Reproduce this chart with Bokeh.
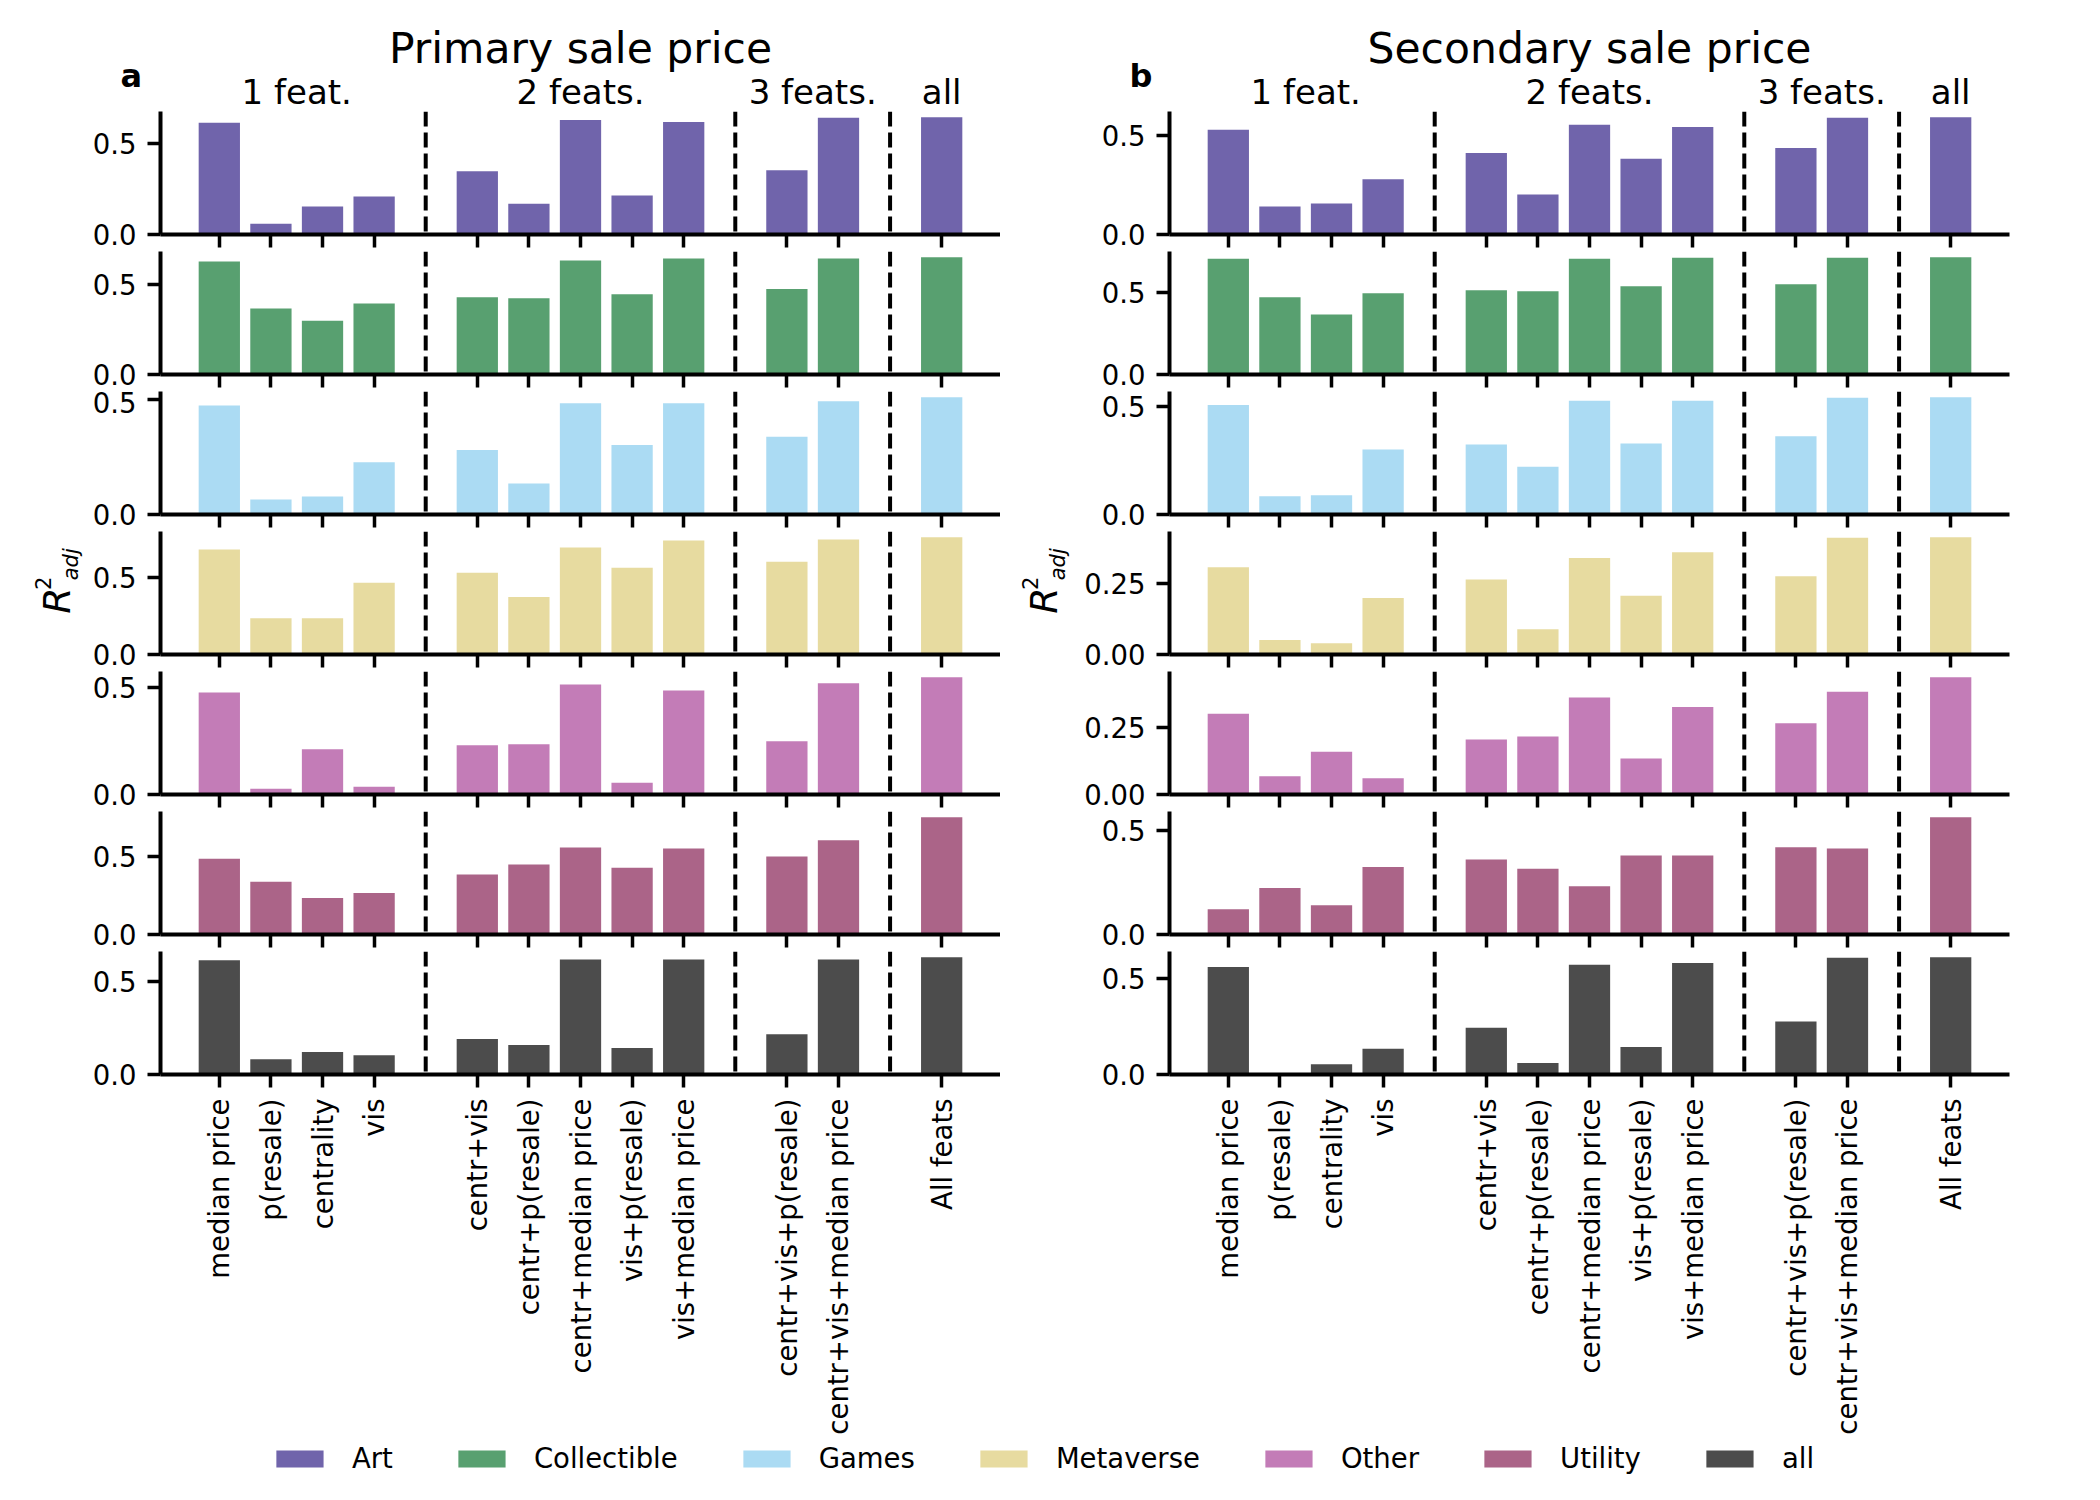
import math
from bokeh.plotting import figure
from bokeh.models import (Range1d, FixedTicker, NumeralTickFormatter, Span,
                          Legend, LegendItem)
from bokeh.core.properties import value
from bokeh.layouts import column, row
from bokeh.embed import file_html
from bokeh.resources import INLINE

# ---------------- data ----------------
features = ["median price", "p(resale)", "centrality", "vis",
            "centr+vis", "centr+p(resale)", "centr+median price", "vis+p(resale)", "vis+median price",
            "centr+vis+p(resale)", "centr+vis+median price",
            "All feats"]
group_names = ["1 feat.", "2 feats.", "3 feats.", "all"]
group_sizes = [4, 5, 2, 1]
categories = ["Art", "Collectible", "Games", "Metaverse", "Other", "Utility", "all"]
base_colors = ["#332288", "#117733", "#88CCEE", "#DDCC77", "#AA4499", "#882255", "#000000"]
panel_titles = ["Primary sale price", "Secondary sale price"]
panel_letters = ["a", "b"]

# Primary sale price (panel a)
primary_art = [0.615, 0.059, 0.154, 0.209, 0.348, 0.170, 0.631, 0.215, 0.620, 0.354, 0.643, 0.645]
primary_collectible = [0.626, 0.366, 0.298, 0.394, 0.428, 0.423, 0.632, 0.445, 0.643, 0.474, 0.643, 0.649]
primary_games = [0.475, 0.065, 0.078, 0.228, 0.281, 0.135, 0.484, 0.303, 0.484, 0.338, 0.493, 0.510]
primary_metaverse = [0.678, 0.235, 0.235, 0.463, 0.528, 0.372, 0.691, 0.561, 0.737, 0.600, 0.743, 0.757]
primary_other = [0.476, 0.027, 0.211, 0.036, 0.230, 0.235, 0.514, 0.055, 0.486, 0.249, 0.519, 0.547]
primary_utility = [0.488, 0.340, 0.235, 0.267, 0.387, 0.451, 0.561, 0.430, 0.555, 0.503, 0.608, 0.755]
primary_all = [0.617, 0.083, 0.121, 0.104, 0.192, 0.160, 0.621, 0.143, 0.621, 0.218, 0.621, 0.633]

# Secondary sale price (panel b)
secondary_art = [0.527, 0.141, 0.156, 0.278, 0.410, 0.202, 0.553, 0.381, 0.542, 0.436, 0.588, 0.590]
secondary_collectible = [0.704, 0.469, 0.364, 0.494, 0.512, 0.506, 0.704, 0.537, 0.710, 0.549, 0.710, 0.712]
secondary_games = [0.506, 0.084, 0.089, 0.300, 0.323, 0.220, 0.525, 0.328, 0.525, 0.361, 0.539, 0.541]
secondary_metaverse = [0.307, 0.051, 0.040, 0.199, 0.264, 0.089, 0.339, 0.207, 0.360, 0.275, 0.411, 0.412]
secondary_other = [0.303, 0.069, 0.161, 0.061, 0.207, 0.218, 0.364, 0.135, 0.329, 0.268, 0.386, 0.440]
secondary_utility = [0.121, 0.223, 0.140, 0.324, 0.360, 0.316, 0.232, 0.379, 0.379, 0.418, 0.413, 0.562]
secondary_all = [0.557, 0.002, 0.053, 0.134, 0.242, 0.059, 0.569, 0.143, 0.578, 0.275, 0.605, 0.607]

panels = [
    [primary_art, primary_collectible, primary_games, primary_metaverse,
     primary_other, primary_utility, primary_all],
    [secondary_art, secondary_collectible, secondary_games, secondary_metaverse,
     secondary_other, secondary_utility, secondary_all],
]

# ---------------- layout constants ----------------
FONT = "DejaVu Sans"
BAR_W = 0.8
FRAME_W, FRAME_H = 840, 123
GAP_TOP, GAP_BOTTOM = 0, 17     # split of the 17px gap between rows
HEADER_H = 111
BOTTOM_LABEL_H = 368
BORDER_L = [160, 169]      # distance from block left to frame left
BORDER_R = [0, 30]
STRIP_W = [88, 81]         # width of the y-label strip next to the middle row
LABEL_ROW = 3
MID_K = 0.346              # baseline-to-box-centre distance, in em, for DejaVu Sans

positions, boundaries, group_centers = [], [], []
pos = 0
for gi, n in enumerate(group_sizes):
    positions.extend(range(pos, pos + n))
    group_centers.append(pos + (n - 1) / 2)
    pos += n
    if gi < len(group_sizes) - 1:
        boundaries.append(pos)
        pos += 1

lo_lim = positions[0] - BAR_W / 2
hi_lim = positions[-1] + BAR_W / 2
pad = 0.05 * (hi_lim - lo_lim)
XLO, XHI = lo_lim - pad, hi_lim + pad
PPU = FRAME_W / (XHI - XLO)          # screen pixels per x unit

n_rows = len(categories)


def blank_fig(w, h, xr, yr):
    f = figure(width=w, height=h, x_range=xr, y_range=yr, x_axis_type=None,
               y_axis_type=None, title=None, output_backend="svg",
               toolbar_location=None, min_border=0)
    f.outline_line_color = None
    f.xgrid.visible = False
    f.ygrid.visible = False
    return f


def style_axes(p, show_xlabels):
    for ax in (p.xaxis[0], p.yaxis[0]):
        ax.axis_line_width = 4
        ax.axis_line_color = "black"
        ax.major_tick_line_width = 3.5
        ax.major_tick_line_color = "black"
        ax.major_tick_in = 0
        ax.major_tick_out = 13
        ax.minor_tick_in = 0
        ax.minor_tick_out = 0
        ax.major_label_text_font = FONT
        ax.major_label_text_font_size = "27.5px"
        ax.major_label_text_color = "black"
    p.yaxis.major_label_standoff = 11
    p.xaxis.ticker = FixedTicker(ticks=positions)
    if show_xlabels:
        p.xaxis.major_label_overrides = {pp: f for pp, f in zip(positions, features)}
        p.xaxis.major_label_orientation = math.pi / 2
        p.xaxis.major_label_standoff = 11
    else:
        p.xaxis.major_label_overrides = {pp: "" for pp in positions}
        p.xaxis.major_label_text_font_size = "1px"
        p.xaxis.major_label_standoff = 0


def make_fig(values, color, panel, r, border_left):
    last = r == n_rows - 1
    ymax = 1.05 * max(values)
    p = figure(frame_width=FRAME_W, frame_height=FRAME_H,
               min_border_left=border_left,
               min_border_right=BORDER_R[panel],
               min_border_top=GAP_TOP,
               min_border_bottom=BOTTOM_LABEL_H if last else GAP_BOTTOM,
               x_range=Range1d(XLO, XHI), y_range=Range1d(0, ymax),
               title=None, output_backend="svg", toolbar_location=None)
    p.xgrid.visible = False
    p.ygrid.visible = False
    p.outline_line_color = None

    p.vbar(x=positions, top=values, width=BAR_W, bottom=0,
           fill_color=color, fill_alpha=0.7, line_color=None)

    for b in boundaries:
        p.add_layout(Span(location=b, dimension="height", line_color="black",
                          line_width=4, line_dash="15 6"))

    step = 0.5 if ymax >= 0.5 else 0.25
    p.yaxis.ticker = FixedTicker(ticks=[0, step])
    p.yaxis.formatter = NumeralTickFormatter(format="0.0" if step == 0.5 else "0.00")
    style_axes(p, last)
    return p


def mid_y(baseline_from_top, size, height):
    """y (measured from the bottom) of the text centre for a wanted baseline."""
    return height - (baseline_from_top - MID_K * size)


def make_header(panel):
    bl, br = BORDER_L[panel], BORDER_R[panel]
    w = bl + FRAME_W + br
    H = HEADER_H
    h = blank_fig(w, H, Range1d(XLO - bl / PPU, XHI + br / PPU), Range1d(0, H))
    h.text(x=group_centers, y=[mid_y(H - 8, 34, H)] * len(group_centers), text=group_names,
           text_font=value(FONT), text_font_size="34px", text_align="center",
           text_baseline="middle", text_color="black")
    h.text(x=[(XLO + XHI) / 2], y=[mid_y(63, 42.5, H)], text=[panel_titles[panel]],
           text_font=value(FONT), text_font_size="42.5px", text_align="center",
           text_baseline="middle", text_color="black")
    h.text(x=[XLO - 40 / PPU], y=[mid_y(87, 32, H)], text=[panel_letters[panel]],
           text_font=value(FONT), text_font_style="bold", text_font_size="32px",
           text_align="left", text_baseline="middle", text_color="black")
    return h


def make_strip(panel):
    sw = STRIP_W[panel]
    hh = GAP_TOP + FRAME_H + GAP_BOTTOM
    s = blank_fig(sw, hh, Range1d(0, sw), Range1d(0, hh))
    fc = hh - GAP_TOP - FRAME_H / 2          # frame centre, from strip bottom
    rb = sw - 18 if panel == 0 else sw - 24  # baseline (screen x) of the big "R"
    common = dict(angle=math.pi / 2, text_font=value(FONT), text_align="left",
                  text_baseline="middle", text_color="black")
    s.text(x=[rb - MID_K * 38], y=[fc - 32], text=["R"], text_font_style="italic",
           text_font_size="38px", **common)
    s.text(x=[rb - 20 - MID_K * 21], y=[fc - 5], text=["2"], text_font_size="21px", **common)
    s.text(x=[rb + 8 - MID_K * 21], y=[fc + 6], text=["adj"], text_font_style="italic",
           text_font_size="21px", **common)
    return s


headers = []
blocks = []
for panel in range(2):
    headers.append(make_header(panel))
    figs = []
    for r in range(n_rows):
        if r == LABEL_ROW:
            f = make_fig(panels[panel][r], base_colors[r], panel, r,
                         BORDER_L[panel] - STRIP_W[panel])
            figs.append(row(make_strip(panel), f, spacing=0))
        else:
            figs.append(make_fig(panels[panel][r], base_colors[r], panel, r,
                                 BORDER_L[panel]))
    blocks.append(column(*figs, spacing=0))

# ---------------- legend ----------------
leg_fig = blank_fig(2084, 32, Range1d(0, 1), Range1d(0, 1))
items = []
for cat, col in zip(categories, base_colors):
    rr = leg_fig.vbar(x=[5], top=[1], width=0.1, fill_color=col, fill_alpha=0.7,
                      line_color=None)
    items.append(LegendItem(label=cat, renderers=[rr]))
legend = Legend(items=items, orientation="horizontal", location="center",
                glyph_width=59, glyph_height=21, label_standoff=23, spacing=59,
                padding=0, margin=0, border_line_color=None, background_fill_alpha=0,
                label_text_font=FONT, label_text_font_size="27.5px", label_text_color="black")
leg_fig.add_layout(legend, "center")

layout = column(row(headers[0], headers[1], spacing=0),
                row(blocks[0], blocks[1], spacing=0),
                leg_fig, spacing=0)

open("out.html", "w").write(file_html(layout, INLINE))
